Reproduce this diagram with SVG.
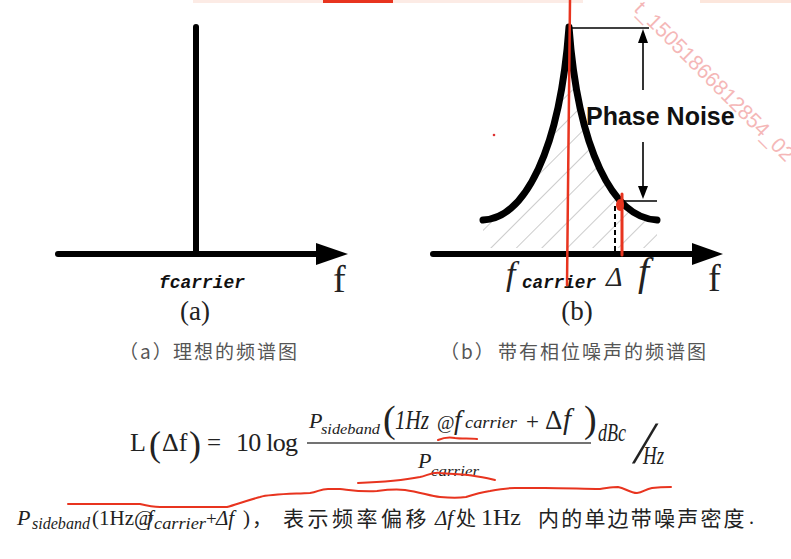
<svg xmlns="http://www.w3.org/2000/svg" width="791" height="559" viewBox="0 0 791 559">
<style>
.ax{stroke:#000;stroke-width:6;fill:none;stroke-linecap:round}
.curve{stroke:#000;stroke-width:7;fill:none;stroke-linecap:round;stroke-linejoin:round}
.thin{stroke:#000;stroke-width:1.6;fill:none}
.serif{font-family:"Liberation Serif","Times New Roman",serif;fill:#222}
.it{font-style:italic}
.mono{font-family:"Liberation Mono","Courier New",monospace;font-style:italic;font-weight:bold;fill:#111}
.cn{font-family:"Noto Sans CJK SC","Noto Sans CJK JP",sans-serif}
.cap{fill:#555;font-size:19px;letter-spacing:2px}
.red{stroke:#e8341f;fill:none;stroke-linecap:round;stroke-linejoin:round}
.wm{font-family:"Liberation Sans",Arial,sans-serif;font-size:21px;fill:#f19a9a;opacity:0.7}
</style>
<defs>
<pattern id="hatch" width="18" height="18" patternUnits="userSpaceOnUse" patternTransform="rotate(45)">
<line x1="0" y1="0" x2="0" y2="18" stroke="#999" stroke-width="1"/>
</pattern>
<clipPath id="under">
<path d="M483,220 C525,218 560,150 569,27 C578,150 613,218 657,220 L657,248 L483,248 Z"/>
</clipPath>
</defs>
<rect width="791" height="559" fill="#fff"/>

<g id="top-marks">
<rect x="193" y="0" width="390" height="3" fill="#fcebe5"/>
<rect x="323" y="0" width="70" height="3" fill="#e8341f"/>
<rect x="700" y="0" width="91" height="3" fill="#fce6dc"/>
</g>

<g id="fig-a">
<line class="ax" x1="196" y1="27" x2="196" y2="254"/>
<line class="ax" x1="58" y1="254" x2="320" y2="254"/>
<polygon points="316,243 348,254 316,265" fill="#000"/>
<text class="mono" x="159" y="288" font-size="19" textLength="86" lengthAdjust="spacingAndGlyphs">fcarrier</text>
<text class="serif" x="333" y="292" font-size="38">f</text>
<text class="serif" x="195" y="320" font-size="27" text-anchor="middle">(a)</text>
<text class="cn cap" x="119" y="359">（a）</text>
<text class="cn cap" x="173" y="359">理想的频谱图</text>
</g>

<g id="fig-b">
<rect x="480" y="20" width="180" height="230" fill="url(#hatch)" clip-path="url(#under)"/>
<line class="ax" x1="433" y1="254" x2="696" y2="254"/>
<polygon points="692,243 723,254 692,265" fill="#000"/>
<path class="curve" d="M483,220 C525,218 560,150 569,27 C578,150 613,218 657,220"/>
<line x1="615" y1="206" x2="615" y2="251" stroke="#000" stroke-width="2" stroke-dasharray="5,3"/>
<text x="506" y="285" class="serif it" font-size="34">f</text>
<text class="mono" x="522" y="288" font-size="18" textLength="74" lengthAdjust="spacingAndGlyphs">carrier</text>
<text x="606" y="286" class="serif it" font-size="28">Δ</text>
<text x="638" y="285" class="serif it" font-size="40">f</text>
<text class="serif" x="708" y="291" font-size="38">f</text>
<text class="serif" x="577" y="320" font-size="27" text-anchor="middle">(b)</text>
<text class="cn cap" x="440" y="359">（b）</text>
<text class="cn cap" x="498" y="359">带有相位噪声的频谱图</text>
</g>

<g id="phase-noise">
<line class="thin" x1="569" y1="28" x2="649" y2="28"/>
<line class="thin" x1="620" y1="201" x2="657" y2="201"/>
<line class="thin" x1="643" y1="40" x2="643" y2="90"/>
<polygon points="643,29 638,43 648,43" fill="#000"/>
<line class="thin" x1="643" y1="142" x2="643" y2="188"/>
<polygon points="638,186 648,186 643,199" fill="#000"/>
<text x="586" y="125" font-family="Liberation Sans,Arial,sans-serif" font-weight="bold" font-size="25" fill="#111">Phase Noise</text>
</g>

<text class="wm" transform="translate(633,10) rotate(45)">t_15051866812854_02</text>

<g id="formula">
<text class="serif" x="130" y="451" font-size="26">L</text>
<text class="serif" x="149" y="456" font-size="36">(</text>
<text class="serif" x="162" y="451" font-size="26">Δf</text>
<text class="serif" x="189" y="456" font-size="36">)</text>
<text class="serif" x="207" y="451" font-size="25">=</text>
<text class="serif" x="236" y="451" font-size="26" textLength="62">10 log</text>
<line x1="307" y1="443" x2="591" y2="443" stroke="#444" stroke-width="1.3"/>
<text class="serif it" x="309" y="428" font-size="22">P</text>
<text class="serif it" x="321" y="434" font-size="14" textLength="59" lengthAdjust="spacingAndGlyphs">sideband</text>
<text class="serif" x="383" y="432" font-size="38">(</text>
<text class="serif it" x="395" y="429" font-size="27" textLength="34" lengthAdjust="spacingAndGlyphs">1Hz</text>
<text class="serif" x="437" y="429" font-size="19">@</text>
<text class="serif it" x="454" y="429" font-size="27">f</text>
<text class="serif it" x="465" y="428" font-size="16" textLength="52" lengthAdjust="spacingAndGlyphs">carrier</text>
<text class="serif" x="526" y="429" font-size="23">+</text>
<text class="serif" x="545" y="429" font-size="27">Δ</text>
<text class="serif it" x="563" y="429" font-size="29">f</text>
<text class="serif" x="584" y="432" font-size="38">)</text>
<text class="serif it" x="598" y="441" font-size="25" textLength="28" lengthAdjust="spacingAndGlyphs">dBc</text>
<text class="serif" transform="translate(632,463) skewX(-14)" font-size="60">/</text>
<text class="serif it" x="643" y="464" font-size="25" textLength="21" lengthAdjust="spacingAndGlyphs">Hz</text>
<text class="serif it" x="418" y="468" font-size="22">P</text>
<text class="serif it" x="431" y="476" font-size="15" textLength="48" lengthAdjust="spacingAndGlyphs">carrier</text>
</g>

<g id="sentence">
<text class="serif it" x="17" y="525" font-size="22">P</text>
<text class="serif it" x="32" y="529" font-size="16" textLength="58" lengthAdjust="spacingAndGlyphs">sideband</text>
<text class="serif" x="92" y="525" font-size="21">(1Hz@</text>
<text class="serif it" x="147" y="525" font-size="21">f</text>
<text class="serif it" x="154" y="529" font-size="16" textLength="52" lengthAdjust="spacingAndGlyphs">carrier</text>
<text class="serif" x="206" y="525" font-size="19">+</text>
<text class="serif it" x="216" y="525" font-size="21">Δf</text>
<text class="serif" x="243" y="525" font-size="21">)</text>
<text class="cn" x="252" y="526" font-size="20" fill="#222">，</text>
<text class="cn" x="283" y="526" font-size="21" letter-spacing="3.5" fill="#222">表示频率偏移</text>
<text class="serif it" x="435" y="525" font-size="21">Δf</text>
<text class="cn" x="456" y="526" font-size="20" fill="#222">处</text>
<text class="serif" x="481" y="525" font-size="24">1Hz</text>
<text class="cn" x="538" y="526" font-size="21" letter-spacing="2.2" fill="#222">内的单边带噪声密度</text>
<text class="serif" x="749" y="524" font-size="20">.</text>
</g>

<g id="annotations">
<line class="red" x1="570" y1="0" x2="567" y2="285" stroke-width="2.5"/>
<line class="red" x1="622" y1="194" x2="622" y2="255" stroke-width="3"/>
<ellipse cx="620" cy="205" rx="4" ry="6" fill="#e8341f"/>
<circle cx="494" cy="135" r="1.3" fill="#d33"/>
<path class="red" stroke-width="2" d="M438,440 C445,437 450,437 455,438 C462,439 470,438 477,439"/>
<path class="red" stroke-width="2" d="M358,483 C385,482 405,480 420,477 C428,475 433,472 440,473 C450,474 458,474 468,475 C480,477 488,478 495,480"/>
<path class="red" stroke-width="2" d="M68,504 L140,504 C148,506 152,507 160,507 L227,507 C235,505 245,501 260,497 C270,494 290,494 310,493 C318,492 320,489 328,489 L340,489 C350,490 360,492 377,491 C385,490 395,489 405,490 C420,492 430,496 440,497 C450,498 460,498 466,497 C475,494 483,492 490,491 C500,489 505,488 515,488 L545,488 C565,488 585,489 600,489 C608,488 612,487 618,487 C625,488 630,493 637,493 C643,493 645,489 652,488 C660,487 665,487 671,487"/>
</g>
</svg>
